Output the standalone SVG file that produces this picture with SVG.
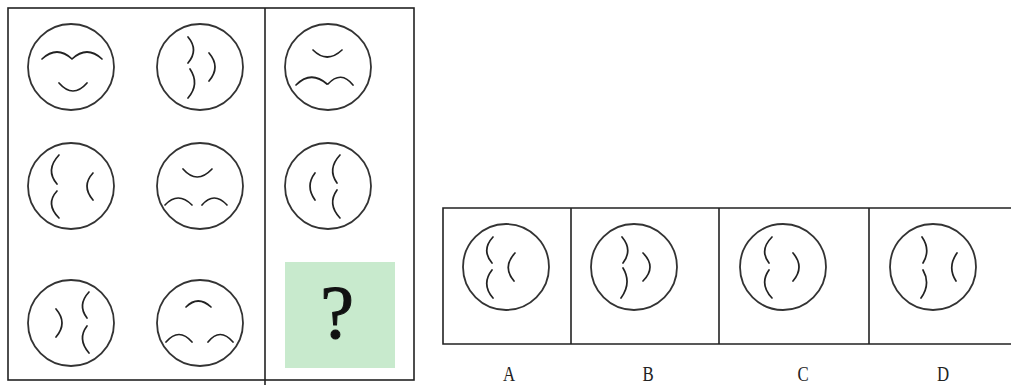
<svg xmlns="http://www.w3.org/2000/svg" width="1011" height="387" viewBox="0 0 1011 387">
<style>
.frame{fill:none;stroke:#222;stroke-width:1.6}
.c{fill:#fff;stroke:#333;stroke-width:1.8}
.a{fill:none;stroke:#222;stroke-width:1.7;stroke-linecap:round}
.lbl{font-family:"Liberation Serif",serif;font-size:21px;fill:#222;text-anchor:middle}
.q{font-family:"Liberation Serif",serif;font-size:76px;fill:#111;stroke:#111;stroke-width:1;text-anchor:middle}
</style>
<rect width="1011" height="387" fill="#fff"/>
<g id="frames">
<rect class="frame" x="8" y="8" width="406" height="372"/>
<line class="frame" x1="265" y1="8" x2="265" y2="385"/>
<polyline class="frame" points="1011,208 443,208 443,344 1011,344"/>
<line class="frame" x1="571" y1="208" x2="571" y2="344"/>
<line class="frame" x1="719" y1="208" x2="719" y2="344"/>
<line class="frame" x1="869" y1="208" x2="869" y2="344"/>
</g>
<g id="r1c1"><circle class="c" cx="71" cy="67" r="43"/>
<path class="a" d="M42,59 Q57,45 72,59 M72,59 Q87,45 102,59 M59,83 Q73,99 87,83"/></g>
<g id="r1c2"><circle class="c" cx="200" cy="67" r="43"/>
<path class="a" d="M188,37 Q199,50 188,63 M190,69 Q200,84 188,98 M209,53 Q221,67 209,81"/></g>
<g id="r1c3"><circle class="c" cx="328" cy="67" r="43"/>
<path class="a" d="M313,50 Q327,64 342,50 M296,85 Q311,70 327,84 M328,84 Q341,70 353,85"/></g>
<g id="r2c1"><circle class="c" cx="71" cy="186" r="43"/>
<path class="a" d="M59,155 Q45,170 57,184 M57,191 Q45,204 59,218 M93,173 Q81,186 93,200"/></g>
<g id="r2c2"><circle class="c" cx="200" cy="186" r="43"/>
<path class="a" d="M183,169 Q197,185 212,169 M165,205 Q178,191 192,205 M202,205 Q214,191 227,205"/></g>
<g id="r2c3"><circle class="c" cx="328" cy="186" r="43"/>
<path class="a" d="M315,173 Q305,186 315,200 M340,155 Q327,169 337,183 M337,190 Q327,204 340,218"/></g>
<g id="r3c1"><circle class="c" cx="71" cy="323" r="43"/>
<path class="a" d="M56,309 Q68,323 56,337 M89,292 Q77,305 87,318 M87,326 Q77,339 89,353"/></g>
<g id="r3c2"><circle class="c" cx="200" cy="323" r="43"/>
<path class="a" d="M186,307 Q198,295 211,307 M166,342 Q179,327 192,342 M208,342 Q220,327 233,342"/></g>
<g id="question"><rect x="285" y="262" width="110" height="106" fill="#c8eacd"/>
<text class="q" x="337" y="338">?</text></g>
<g id="optA"><circle class="c" cx="506" cy="267" r="43"/>
<path class="a" d="M493,237 Q481,250 492,263 M492,270 Q481,284 493,298 M515,253 Q502,267 514,281"/>
<text class="lbl" transform="translate(509,381) scale(0.8,1)">A</text></g>
<g id="optB"><circle class="c" cx="634" cy="267" r="43"/>
<path class="a" d="M622,237 Q633,250 623,263 M623,268 Q632,283 621,298 M643,253 Q657,267 643,281"/>
<text class="lbl" transform="translate(648,381) scale(0.8,1)">B</text></g>
<g id="optC"><circle class="c" cx="783" cy="267" r="43"/>
<path class="a" d="M772,237 Q759,250 769,263 M769,270 Q759,284 772,298 M793,253 Q805,267 793,281"/>
<text class="lbl" transform="translate(803,381) scale(0.8,1)">C</text></g>
<g id="optD"><circle class="c" cx="933" cy="267" r="43"/>
<path class="a" d="M922,237 Q931,250 923,263 M923,270 Q931,284 921,298 M957,253 Q947,267 956,281"/>
<text class="lbl" transform="translate(943,381) scale(0.8,1)">D</text></g>
</svg>
